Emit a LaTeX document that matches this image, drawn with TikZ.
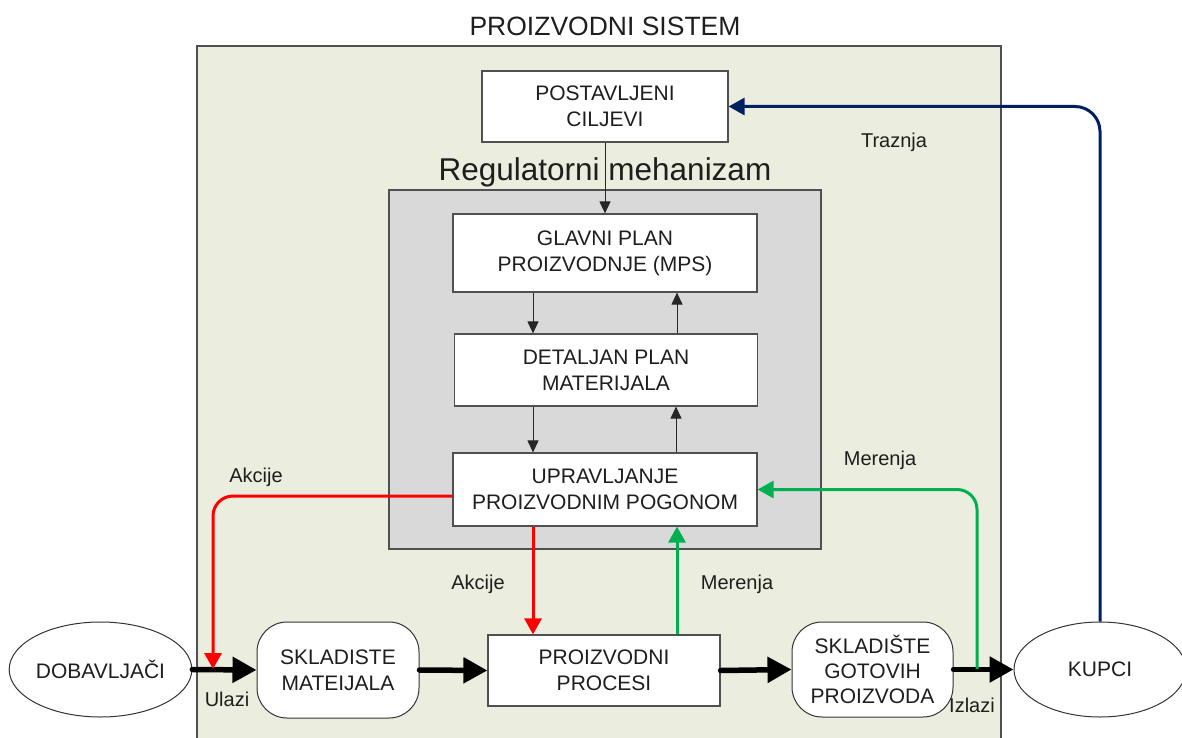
\documentclass[tikz,border=0pt]{standalone}
\usepackage{fontspec}
\setmainfont{Liberation Sans}
\usetikzlibrary{arrows.meta,shapes.geometric}
\definecolor{sysfill}{HTML}{EBEEDF}
\definecolor{regfill}{HTML}{D9D9D9}
\definecolor{edge}{HTML}{505050}
\definecolor{txt}{HTML}{1E1E1E}
\definecolor{redc}{HTML}{FF0000}
\definecolor{greenc}{HTML}{00B050}
\definecolor{navyc}{HTML}{002060}
\tikzset{
  boxtext/.style={font=\fontsize{21}{26}\selectfont, text=txt, align=center, inner sep=0pt},
  plainbox/.style={boxtext, draw=edge, line width=1.2pt, fill=white, rectangle},
  roundbox/.style={boxtext, draw=black!80, line width=1pt, fill=white, rectangle, rounded corners=30pt},
  ovalnode/.style={boxtext, draw=black!80, line width=1pt, fill=white, ellipse, inner sep=0pt},
  lbl/.style={font=\fontsize{20}{24}\selectfont, text=txt, inner sep=0pt},
  thinarr/.style={draw=black!85, line width=1pt, -{Triangle[length=12pt,width=11pt]}},
  colarr/.style={line width=3pt, -{Triangle[length=16pt,width=17pt]}, rounded corners=20pt},
  flowarr/.style={draw=black, line width=5.5pt, line cap=round, -{Triangle[length=24pt,width=25pt]}}
}
\begin{document}
\begin{tikzpicture}[x=1pt,y=-1pt]
\useasboundingbox (0,0) rectangle (1182,738);
% system frame
\draw[fill=sysfill, draw=edge, line width=1.5pt] (197,46) rectangle (1001,760);
\node[font=\fontsize{26.5}{30}\selectfont, text=txt, inner sep=0pt] (title) at (605,26) {PROIZVODNI SISTEM};
% regulatory mechanism
\draw[fill=regfill, draw=edge, line width=1.2pt] (389,190) rectangle (821,549);
% nodes
\node[plainbox, minimum width=246pt, minimum height=71pt] (post) at (605,106.5) {POSTAVLJENI\\CILJEVI};
\node[plainbox, minimum width=304pt, minimum height=78pt] (glavni) at (605,253) {GLAVNI PLAN\\PROIZVODNJE (MPS)};
\node[plainbox, minimum width=303pt, minimum height=72pt] (detaljan) at (606,370) {DETALJAN PLAN\\MATERIJALA};
\node[plainbox, minimum width=304pt, minimum height=73pt] (uprav) at (605,489.5) {UPRAVLJANJE\\PROIZVODNIM POGONOM};
\node[plainbox, minimum width=232pt, minimum height=71pt] (proc) at (604,670.5) {PROIZVODNI\\PROCESI};
\node[ovalnode, minimum width=179pt, minimum height=95pt] (dob) at (100.5,669.5) {DOBAVLJAČI};
\node[roundbox, minimum width=162pt, minimum height=96pt] (skm) at (338,670) {SKLADISTE\\MATEIJALA};
\node[roundbox, minimum width=161pt, minimum height=95pt, font=\fontsize{21}{25}\selectfont] (skg) at (872.5,669.5) {SKLADIŠTE\\GOTOVIH\\PROIZVODA};
\node[ovalnode, minimum width=172pt, minimum height=95pt] (kupci) at (1100,669.5) {KUPCI};
% thin arrows inside the mechanism
\draw[thinarr] (post.south) -- (glavni.north);
\node[font=\fontsize{31.5}{35}\selectfont, text=txt, inner sep=0pt] (reg) at (605,172) {Regulatorni mehanizam};
\draw[thinarr] ([xshift=-72pt]glavni.south) -- ([xshift=-72pt]glavni.south |- detaljan.north);
\draw[thinarr] ([xshift=71pt]detaljan.north) -- ([xshift=71pt]detaljan.north |- glavni.south);
\draw[thinarr] ([xshift=-73pt]detaljan.south) -- ([xshift=-73pt]detaljan.south |- uprav.north);
\draw[thinarr] ([xshift=71pt]uprav.north) -- ([xshift=71pt]uprav.north |- detaljan.south);
% main flow
\draw[flowarr] (dob.east) -- (skm.west);
\draw[flowarr] (skm.east) -- (proc.west);
\draw[flowarr] (proc.east) -- (skg.west);
\draw[flowarr] (skg.east) -- (kupci.west);
% coloured feedback
\coordinate (rin) at (213,669);
\coordinate (gout) at (977,669);
\draw[colarr, draw=redc] ([yshift=-6.5pt]uprav.west) -| (rin);
\draw[colarr, draw=redc] ([xshift=-72pt]uprav.south) -- ([xshift=-72pt]uprav.south |- proc.north);
\draw[colarr, draw=greenc] ([xshift=73pt]proc.north) -- ([xshift=73pt]proc.north |- uprav.south);
\draw[colarr, draw=greenc] (gout) |- (uprav.east);
\draw[colarr, draw=navyc, rounded corners=25pt] (kupci.north) |- (post.east);
% labels
\node[lbl] (ulazi) at (227,699) {Ulazi};
\node[lbl] (izlazi) at (972,705) {Izlazi};
\node[lbl] (akc1) at (256,477) {Akcije};
\node[lbl] (akc2) at (478,584) {Akcije};
\node[lbl] (mer1) at (737,584) {Merenja};
\node[lbl] (mer2) at (880,460) {Merenja};
\node[lbl] (traz) at (894,142) {Traznja};
\end{tikzpicture}
\end{document}
